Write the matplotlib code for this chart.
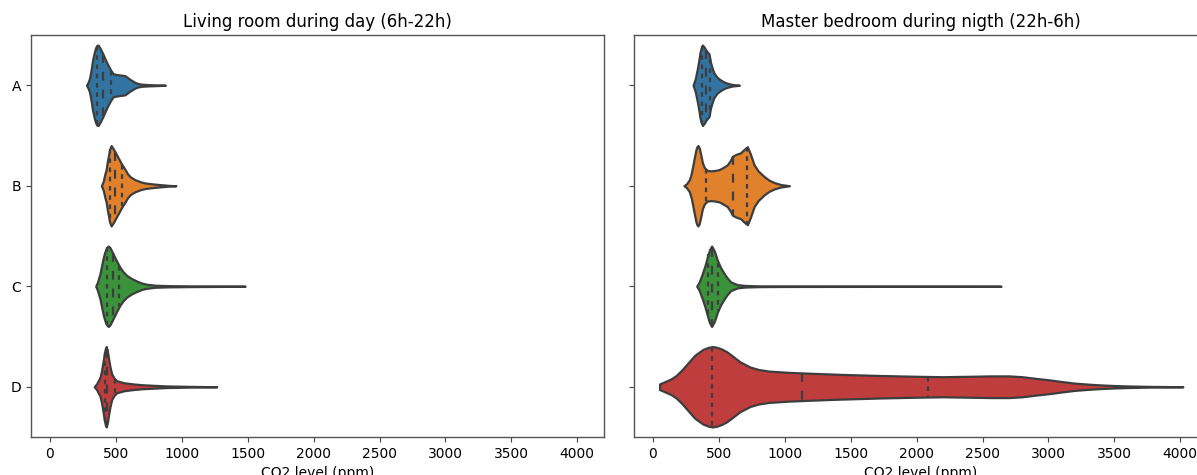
import numpy as np
import matplotlib
matplotlib.use('Agg')
import matplotlib.pyplot as plt

# categories and panel titles
labels = ['A', 'B', 'C', 'D']
titles = ['Living room during day (6h-22h)', 'Master bedroom during nigth (22h-6h)']
colors = ['#3274a1', '#e1812c', '#3a923a', '#c03d3e']
gray = '#3d3d3d'

# density outlines: CO2 value (ppm) -> relative half width
day_A_v = [277, 290, 300, 312, 323, 335, 345, 355, 365, 380, 400, 420, 440, 460, 478, 500, 521, 545, 567, 585, 605, 625, 645, 670, 700, 750, 800, 875]
day_A_w = [0.0, 0.08, 0.17, 0.38, 0.62, 0.8, 0.92, 0.99, 1.0, 0.92, 0.79, 0.64, 0.5, 0.38, 0.29, 0.27, 0.26, 0.25, 0.24, 0.2, 0.15, 0.11, 0.07, 0.04, 0.025, 0.015, 0.01, 0.0]
day_B_v = [390, 405, 417, 426, 435, 444, 452, 464, 480, 505, 525, 545, 565, 590, 610, 645, 685, 720, 780, 830, 900, 955]
day_B_w = [0.0, 0.12, 0.3, 0.4, 0.6, 0.75, 0.9, 1.0, 0.92, 0.77, 0.65, 0.53, 0.43, 0.29, 0.22, 0.15, 0.1, 0.07, 0.045, 0.03, 0.01, 0.0]
day_C_v = [347, 360, 379, 392, 405, 415, 425, 435, 443, 455, 480, 505, 531, 555, 582, 620, 658, 695, 734, 800, 900, 1100, 1300, 1480]
day_C_w = [0.0, 0.1, 0.31, 0.52, 0.72, 0.84, 0.93, 0.98, 1.0, 0.96, 0.8, 0.63, 0.47, 0.36, 0.27, 0.19, 0.13, 0.08, 0.05, 0.025, 0.015, 0.008, 0.004, 0.0]
day_D_v = [336, 355, 379, 390, 400, 412, 420, 427, 435, 443, 455, 468, 485, 506, 560, 632, 700, 759, 885, 1050, 1265]
day_D_w = [0.0, 0.08, 0.23, 0.38, 0.57, 0.82, 0.95, 1.0, 0.9, 0.73, 0.5, 0.32, 0.22, 0.15, 0.1, 0.07, 0.05, 0.04, 0.02, 0.01, 0.0]

night_A_v = [304, 320, 336, 348, 356, 366, 375, 388, 400, 412, 425, 437, 450, 462, 485, 513, 540, 564, 600, 655]
night_A_w = [0.0, 0.15, 0.4, 0.62, 0.8, 0.93, 1.0, 0.95, 0.88, 0.83, 0.78, 0.56, 0.42, 0.31, 0.2, 0.13, 0.08, 0.05, 0.02, 0.0]
night_B_v = [235, 255, 276, 290, 301, 315, 326, 335, 342, 352, 362, 375, 390, 413, 440, 470, 500, 530, 564, 585, 602, 630, 665, 690, 716, 740, 767, 800, 843, 880, 919, 970, 1035]
night_B_w = [0.0, 0.05, 0.15, 0.3, 0.48, 0.72, 0.9, 0.98, 1.0, 0.93, 0.78, 0.57, 0.45, 0.38, 0.37, 0.38, 0.4, 0.45, 0.52, 0.62, 0.73, 0.78, 0.82, 0.9, 0.97, 0.78, 0.52, 0.36, 0.23, 0.14, 0.08, 0.03, 0.0]
night_C_v = [332, 350, 375, 395, 413, 428, 445, 465, 488, 512, 539, 565, 589, 640, 700, 800, 1000, 1500, 2000, 2640]
night_C_w = [0.0, 0.1, 0.32, 0.52, 0.73, 0.9, 1.0, 0.88, 0.65, 0.47, 0.32, 0.2, 0.11, 0.04, 0.02, 0.01, 0.006, 0.004, 0.003, 0.0]
night_D_v = [50, 100, 140, 176, 220, 260, 316, 380, 420, 451, 485, 520, 560, 597, 660, 737, 800, 878, 1018, 1159, 1400, 1720, 2001, 2200, 2400, 2562, 2700, 2800, 2900, 3010, 3100, 3200, 3300, 3400, 3500, 3600, 3750, 4020]
night_D_w = [0.07, 0.14, 0.2, 0.28, 0.42, 0.57, 0.78, 0.93, 0.98, 1.0, 0.98, 0.94, 0.87, 0.78, 0.62, 0.49, 0.43, 0.39, 0.36, 0.34, 0.31, 0.28, 0.26, 0.25, 0.26, 0.27, 0.27, 0.25, 0.21, 0.17, 0.13, 0.09, 0.065, 0.045, 0.03, 0.02, 0.01, 0.0]

# quartiles (q25, median, q75)
day_quart = [(355, 400, 465), (455, 493, 549), (435, 475, 523), (415, 432, 493)]
night_quart = [(372, 401, 431), (400, 607, 713), (420, 450, 496), (450, 1128, 2085)]

day = [(day_A_v, day_A_w), (day_B_v, day_B_w), (day_C_v, day_C_w), (day_D_v, day_D_w)]
night = [(night_A_v, night_A_w), (night_B_v, night_B_w), (night_C_v, night_C_w), (night_D_v, night_D_w)]

W = 1197
H = 475
fig = plt.figure(figsize=(W / 100, H / 100), dpi=100)
ax1 = fig.add_axes([31 / W, 38 / H, 573 / W, 402 / H])
ax2 = fig.add_axes([634 / W, 38 / H, 573 / W, 402 / H])

lw = 1.6
half = 0.4  # seaborn width 0.8

def draw_panel(ax, shapes, quarts, title, show_labels):
    for i, ((v, w), q) in enumerate(zip(shapes, quarts)):
        v = np.array(v, float)
        w = np.array(w, float)
        w = half * w / w.max()
        ax.fill_between(v, i - w, i + w, facecolor=colors[i], edgecolor=gray, lw=lw, zorder=2)
        for k, qv in enumerate(q):
            h = np.interp(qv, v, w) * 0.99
            d = [lw * 2.5, lw * 2.5] if k == 1 else [lw * 1.3, lw * 1.3]
            ax.plot([qv, qv], [i - h, i + h], color=gray, lw=lw, dashes=d, zorder=3)
    ax.set_xlim(-144, 4203)
    ax.set_ylim(3.5, -0.5)
    ax.set_xticks(np.arange(0, 4001, 500))
    ax.set_yticks(range(len(labels)))
    if show_labels:
        ax.set_yticklabels(labels)
    else:
        ax.set_yticklabels([])
    ax.tick_params(labelsize=10, color='#444444')
    for s in ax.spines.values():
        s.set_color('#555555')
        s.set_linewidth(1.0)
    ax.set_title(title, fontsize=12)
    ax.set_xlabel('CO2 level (ppm)', fontsize=10)

draw_panel(ax1, day, day_quart, titles[0], True)
draw_panel(ax2, night, night_quart, titles[1], False)

fig.savefig('out.png', dpi=100)
